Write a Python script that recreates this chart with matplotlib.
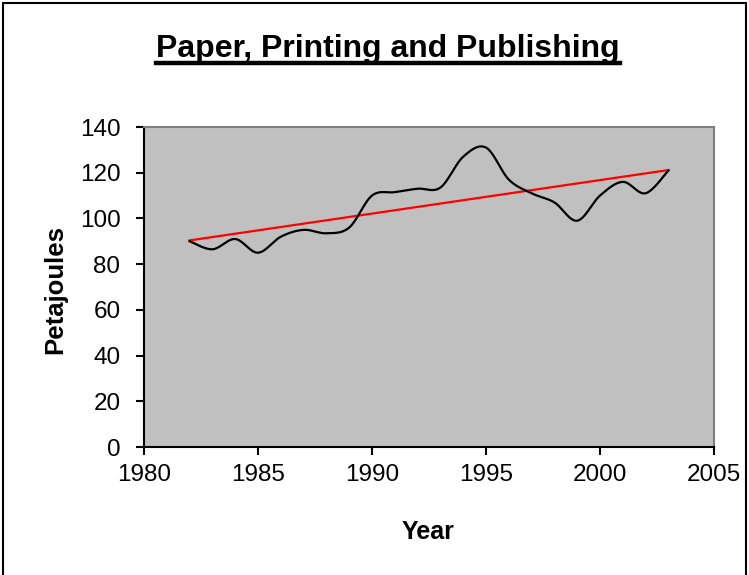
import numpy as np
import matplotlib
matplotlib.use("Agg")
import matplotlib.pyplot as plt
from matplotlib.lines import Line2D
from matplotlib.patches import Rectangle

plt.rcParams["font.family"] = ["Liberation Sans", "DejaVu Sans"]

years = [1982, 1983, 1984, 1985, 1986, 1987, 1988, 1989, 1990, 1991, 1992,
         1993, 1994, 1995, 1996, 1997, 1998, 1999, 2000, 2001, 2002, 2003]
petajoules = [90, 86.5, 91, 85, 92, 95, 93.5, 96, 110, 111.5, 113,
              113.5, 127, 131, 117, 111, 107, 99, 110, 116, 111, 121]

x_ticks = [1980, 1985, 1990, 1995, 2000, 2005]
y_ticks = [0, 20, 40, 60, 80, 100, 120, 140]


def smooth_curve(x, y, steps=30):
    # bezier segments with catmull-rom style control points
    x = np.asarray(x, float)
    y = np.asarray(y, float)
    px = np.concatenate([[x[0]], x, [x[-1]]])
    py = np.concatenate([[y[0]], y, [y[-1]]])
    t = np.linspace(0, 1, steps)[:, None]
    xs, ys = [], []
    for i in range(1, len(px) - 2):
        p0 = np.array([px[i], py[i]])
        p3 = np.array([px[i + 1], py[i + 1]])
        c1 = p0 + (p3 - np.array([px[i - 1], py[i - 1]])) / 6
        c2 = p3 - (np.array([px[i + 2], py[i + 2]]) - p0) / 6
        pts = ((1 - t) ** 3) * p0 + 3 * ((1 - t) ** 2) * t * c1 \
            + 3 * (1 - t) * t ** 2 * c2 + t ** 3 * p3
        xs.append(pts[:, 0])
        ys.append(pts[:, 1])
    return np.concatenate(xs), np.concatenate(ys)


fig = plt.figure(figsize=(7.49, 5.75), dpi=100)
ax = fig.add_axes([144 / 749, 1 - 447 / 575, 570 / 749, 320 / 575])
ax.set_facecolor("#C0C0C0")

sx, sy = smooth_curve(years, petajoules)
ax.plot(sx, sy, color="black", linewidth=1.6, zorder=3)

# linear trendline
slope, intercept = np.polyfit(years, petajoules, 1)
trend_x = np.array([years[0], years[-1]])
ax.plot(trend_x, slope * trend_x + intercept, color="#FF0000",
        linewidth=1.6, zorder=2)

ax.set_xlim(1980, 2005)
ax.set_ylim(0, 140)
ax.set_xticks(x_ticks)
ax.set_yticks(y_ticks)
ax.tick_params(axis="both", labelsize=17.5, direction="out", length=6,
               width=1.5, color="black")
ax.tick_params(axis="y", pad=11)
ax.tick_params(axis="x", pad=6)

for side in ("left", "bottom"):
    ax.spines[side].set_color("black")
    ax.spines[side].set_linewidth(1.5)
for side in ("top", "right"):
    ax.spines[side].set_color("#808080")
    ax.spines[side].set_linewidth(1.5)

title = fig.text(388 / 749, 1 - 57 / 575, "Paper, Printing and Publishing",
                 fontsize=23, fontweight="bold", ha="center",
                 va="baseline")
fig.canvas.draw()
bb = title.get_window_extent().transformed(fig.transFigure.inverted())
ul_y = 1 - 63 / 575
fig.add_artist(Line2D([bb.x0, bb.x1], [ul_y, ul_y], color="black",
                      linewidth=3.2, transform=fig.transFigure))

fig.text(55 / 749, 1 - 290 / 575, "Petajoules", fontsize=18.5,
         fontweight="bold", rotation=90, ha="center", va="center")
fig.text(428 / 749, 1 - 532 / 575, "Year", fontsize=18,
         fontweight="bold", ha="center", va="center")

# chart area border
fig.add_artist(Rectangle((3 / 749, -0.02), 743 / 749, 1 - 3 / 575 + 0.02,
                         fill=False, edgecolor="black", linewidth=1.5,
                         transform=fig.transFigure))

fig.savefig("out.png", dpi=100)
